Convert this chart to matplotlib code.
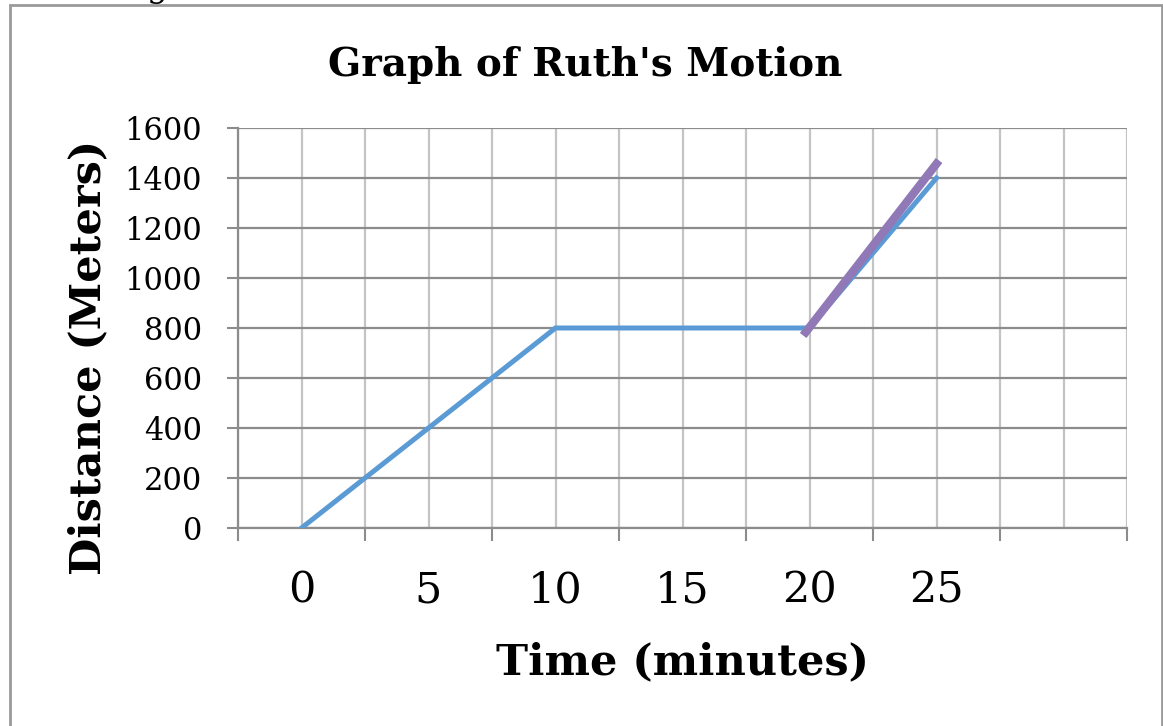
import matplotlib
matplotlib.use("Agg")
import matplotlib.pyplot as plt
from matplotlib.patches import Rectangle
from matplotlib.ticker import FixedLocator, NullFormatter

# category axis (Excel style): one slot per time value, plus an empty slot
categories = ["0", "5", "10", "15", "20", "25", ""]
time_min = [0, 5, 10, 15, 20, 25]
distance_m = [0, 400, 800, 800, 800, 1400]

# hand-drawn purple line over the last segment
purple_time = [19.75, 25.1]
purple_dist = [770, 1470]

y_ticks = [0, 200, 400, 600, 800, 1000, 1200, 1400, 1600]
STEP = 5  # minutes per category

BLUE = "#5b9bd5"
PURPLE = "#9079b6"
GRID_H = "#8c8c8c"
GRID_V = "#c4c4c4"
FONT = "DejaVu Serif"

W, H = 1163, 726
fig = plt.figure(figsize=(W / 100, H / 100), dpi=100)
plt.rcParams["font.family"] = FONT

ax = fig.add_axes([238 / W, 1 - 528 / H, (1127 - 238) / W, 400 / H])

pos = [t / STEP for t in time_min]
ax.plot(pos, distance_m, color=BLUE, lw=3.6, solid_joinstyle="miter", zorder=3)
ax.plot([t / STEP for t in purple_time], purple_dist, color=PURPLE, lw=6,
        solid_capstyle="butt", zorder=4)

n = len(categories)
ax.set_xlim(-0.5, n - 0.5)
ax.set_ylim(0, 1600)

# x: boundaries get tick marks, centres get labels, both get gridlines
ax.xaxis.set_major_locator(FixedLocator([i - 0.5 for i in range(n + 1)]))
ax.xaxis.set_major_formatter(NullFormatter())
ax.xaxis.set_minor_locator(FixedLocator(list(range(n))))
ax.set_xticklabels(categories, minor=True)
ax.tick_params(axis="x", which="major", length=9, width=1.5, color=GRID_H,
               direction="out")
ax.tick_params(axis="x", which="minor", length=0, pad=30, labelsize=31)
ax.grid(axis="x", which="both", color=GRID_V, lw=1.6, zorder=0)

ax.set_yticks(y_ticks)
ax.tick_params(axis="y", length=8, width=1.5, color=GRID_H, pad=18,
               labelsize=22)
ax.grid(axis="y", which="major", color=GRID_H, lw=1.6, zorder=1)
ax.set_axisbelow(True)

for s in ("top", "right"):
    ax.spines[s].set_visible(False)
for s in ("left", "bottom"):
    ax.spines[s].set_color(GRID_H)
    ax.spines[s].set_linewidth(1.6)

ax.set_xlabel("Time (minutes)", fontsize=31, fontweight="bold")
ax.xaxis.set_label_coords((683 - 238) / 889, (528 - 662) / 400)
ax.xaxis.label.set_va("center")
ax.set_ylabel("Distance (Meters)", fontsize=31, fontweight="bold")
ax.yaxis.set_label_coords((88 - 238) / 889, (528 - 357) / 400)
ax.yaxis.label.set_va("center")

fig.text(585 / W, 1 - 65 / H, "Graph of Ruth's Motion", ha="center",
         va="center", fontsize=28, fontweight="bold")

# page frame and the clipped bit of text above it
fig.patches.append(Rectangle((10 / W, -0.05), (1162 - 10) / W, 1.05 - 5 / H,
                             transform=fig.transFigure, fill=False,
                             edgecolor="#9a9a9a", lw=2))
fig.text(157 / W, 1 + 3 / H, "g", ha="center", va="baseline", fontsize=24)

fig.savefig("out.png", dpi=100, facecolor="white")
